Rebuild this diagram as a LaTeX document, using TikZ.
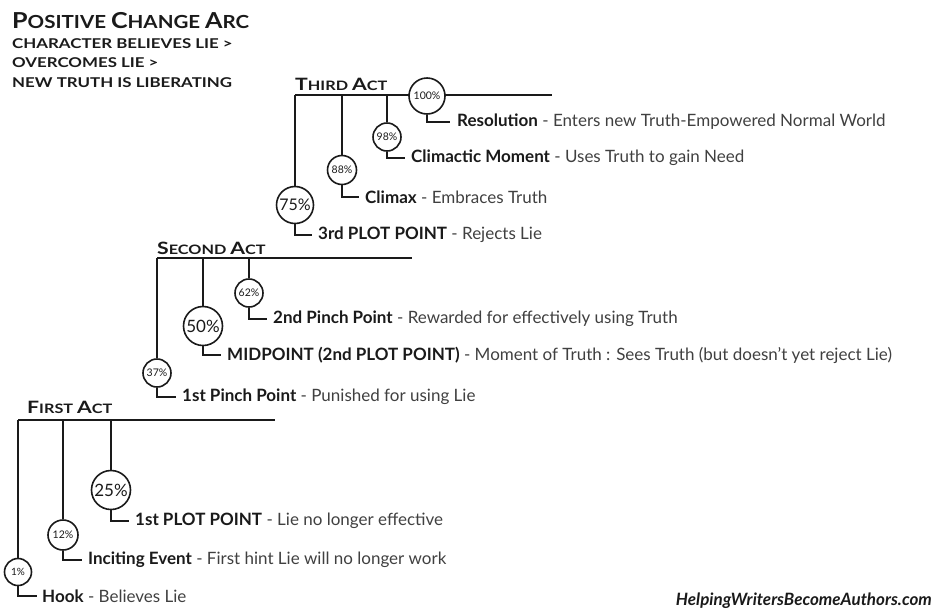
\documentclass[tikz,border=0pt]{standalone}
\usepackage{fontspec}
\setmainfont{Lato}
\newfontfamily\cpfont{Lato}[FakeStretch=1.25]
\newfontfamily\ttlfont{Lato}[FakeStretch=1.14]
\definecolor{ink}{HTML}{1A1A1A}
\definecolor{desc}{HTML}{404040}
\newcommand\bigsc[1]{{\fontsize{\bigszA}{\bigszA}\selectfont #1}}
\def\bigszA{17}
\begin{document}
\begin{tikzpicture}[x=1pt,y=-1pt,
  actline/.style={draw=ink,line width=2.6pt},
  stem/.style={draw=ink,line width=1.6pt},
  pct/.style={circle,draw=ink,line width=1.6pt,fill=white,inner sep=0pt,minimum size=#1},
  lbl/.style={anchor=west,inner sep=0pt,text=desc,font=\fontsize{17}{17}\selectfont},
  pt/.style={font=\fontsize{#1}{#1}\selectfont,text=ink},
  acttitle/.style={anchor=base west,inner sep=0pt,text=ink,font=\cpfont\bfseries\fontsize{13}{13}\selectfont},
  hdr/.style={anchor=base west,inner sep=0pt,text=ink,font=\cpfont\bfseries\fontsize{13.5}{13.5}\selectfont}
]
\useasboundingbox (0,0) rectangle (936,611);

% Title block
\node[anchor=base west,inner sep=0pt,text=ink,font=\ttlfont\bfseries\fontsize{18}{18}\selectfont] (title) at (12,28)
  {\def\bigszA{22}\bigsc{P}OSITIVE \bigsc{C}HANGE \bigsc{A}RC};
\node[hdr] (sub1) at (12,48) {CHARACTER BELIEVES LIE >};
\node[hdr] (sub2) at (12,67) {OVERCOMES LIE >};
\node[hdr] (sub3) at (12,87) {NEW TRUTH IS LIBERATING};

% ---------- Third act ----------
\coordinate (t0) at (295,95);
\coordinate (t1) at (552,95);
\draw[actline] (t0) -- (t1);
\node[acttitle] (third) at (295,90) {\bigsc{T}HIRD \bigsc{A}CT};
\node[pct=36pt,pt=10.5] (c100) at (427,96) {100\%};
\node[pct=28pt,pt=10.5] (c98) at (387,137) {98\%};
\node[pct=29pt,pt=10.5] (c88) at (342,170) {88\%};
\node[pct=37pt,pt=16] (c75) at (295,205) {75\%};
\draw[stem] (c98 |- t0) -- (c98.north);
\draw[stem] (c88 |- t0) -- (c88.north);
\draw[stem] (c75 |- t0) -- (c75.north);
\node[lbl] (l100) at (457,122) {\textbf{\color{ink}Resolution} - Enters new Truth-Empowered Normal World};
\node[lbl] (l98) at (411,158) {\textbf{\color{ink}Climactic Moment} - Uses Truth to gain Need};
\node[lbl] (l88) at (365,197) {\textbf{\color{ink}Climax} - Embraces Truth};
\node[lbl] (l75) at (318,235) {\textbf{\color{ink}3rd PLOT POINT} - Rejects Lie};
\draw[stem] (c100.south) |- ([xshift=-7pt]l100.west);
\draw[stem] (c98.south) |- ([xshift=-6pt]l98.west);
\draw[stem] (c88.south) |- ([xshift=-6pt]l88.west);
\draw[stem] (c75.south) |- ([xshift=-6pt]l75.west);

% ---------- Second act ----------
\coordinate (s0) at (157,258);
\coordinate (s1) at (412,258);
\draw[actline] (s0) -- (s1);
\node[acttitle] (second) at (157,254) {\bigsc{S}ECOND \bigsc{A}CT};
\node[pct=28pt,pt=10.5] (c62) at (249,293) {62\%};
\node[pct=39pt,pt=17] (c50) at (203,326) {50\%};
\node[pct=28pt,pt=10.5] (c37) at (157,373) {37\%};
\draw[stem] (c62 |- s0) -- (c62.north);
\draw[stem] (c50 |- s0) -- (c50.north);
\draw[stem] (c37 |- s0) -- (c37.north);
\node[lbl] (l62) at (273,319) {\textbf{\color{ink}2nd Pinch Point} - Rewarded for effectively using Truth};
\node[lbl] (l50) at (227,355) {\textbf{\color{ink}MIDPOINT (2nd PLOT POINT)} - Moment of Truth : Sees Truth (but doesn’t yet reject Lie)};
\node[lbl] (l37) at (182,397) {\textbf{\color{ink}1st Pinch Point} - Punished for using Lie};
\draw[stem] (c62.south) |- ([xshift=-6pt]l62.west);
\draw[stem] (c50.south) |- ([xshift=-6pt]l50.west);
\draw[stem] (c37.south) |- ([xshift=-6pt]l37.west);

% ---------- First act ----------
\coordinate (f0) at (18,420);
\coordinate (f1) at (275,420);
\draw[actline] (f0) -- (f1);
\node[acttitle] (first) at (27,413) {\bigsc{F}IRST \bigsc{A}CT};
\node[pct=39pt,pt=17] (c25) at (111,490) {25\%};
\node[pct=30pt,pt=10.5] (c12) at (63,535) {12\%};
\node[pct=27pt,pt=10] (c1) at (18,572) {1\%};
\draw[stem] (c25 |- f0) -- (c25.north);
\draw[stem] (c12 |- f0) -- (c12.north);
\draw[stem] (c1 |- f0) -- (c1.north);
\node[lbl] (l25) at (135,521) {\textbf{\color{ink}1st PLOT POINT} - Lie no longer effective};
\node[lbl] (l12) at (88,560) {\textbf{\color{ink}Inciting Event} - First hint Lie will no longer work};
\node[lbl] (l1) at (42,596) {\textbf{\color{ink}Hook} - Believes Lie};
\draw[stem] (c25.south) |- ([xshift=-6pt]l25.west);
\draw[stem] (c12.south) |- ([xshift=-6pt]l12.west);
\draw[stem] (c1.south) |- ([xshift=-5pt]l1.west);

% website
\node[anchor=base east,inner sep=0pt,text=ink,font=\bfseries\itshape\fontsize{17}{17}\selectfont] (web) at (932,605) {HelpingWritersBecomeAuthors.com};
\end{tikzpicture}
\end{document}
